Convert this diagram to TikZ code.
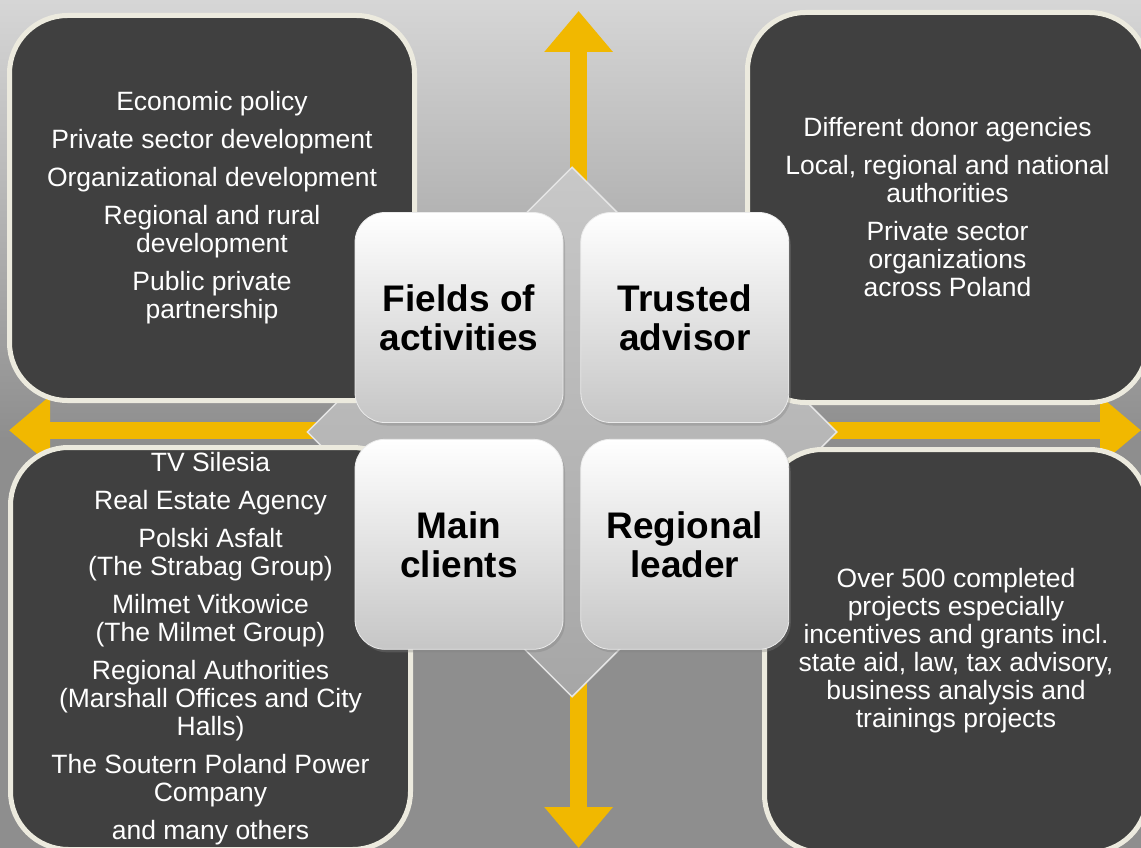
\documentclass[tikz,border=0pt]{standalone}
\usepackage{fontspec}
\setmainfont{Liberation Sans}
\usetikzlibrary{arrows.meta,positioning,shapes.geometric,shadows}

\definecolor{bgtop}{RGB}{214,214,214}
\definecolor{bgbottom}{RGB}{142,142,142}
\definecolor{arrowgold}{RGB}{241,184,0}
\definecolor{panelfill}{RGB}{64,64,64}
\definecolor{panelrim}{RGB}{236,234,222}
\definecolor{tilegray}{RGB}{198,198,198}
\definecolor{hubtop}{RGB}{200,200,200}
\definecolor{hubbottom}{RGB}{166,166,166}

\begin{document}
\begin{tikzpicture}[
				x=1pt, y=-1pt,
				panel/.style={
					draw=panelrim,
					fill=panelfill,
					line width=5pt,
					rounded corners=58pt,
					align=center,
					text=white,
					inner sep=0pt,
					font=\fontsize{26.5}{28}\selectfont
				},
				tile/.style={
					draw=white!92!black,
					top color=white,
					bottom color=tilegray,
					line width=0.8pt,
					rounded corners=30pt,
					minimum width=208pt,
					minimum height=210pt,
					inner sep=0pt,
					align=center,
					font=\fontsize{37}{39}\selectfont\bfseries,
					drop shadow={opacity=0.35,shadow xshift=2pt,shadow yshift=-3pt}
				},
				bigarrow/.style={
					draw=arrowgold,
					line width=17pt,
					-{Triangle[length=41pt,width=66pt]}
				}
				]
				\clip (0,0) rectangle (1141,848);
				\fill[top color=bgtop,bottom color=bgbottom] (0,0) rectangle (1141,440);
				\fill[bgbottom] (0,439) rectangle (1141,848);
				
				% the cross of arrows
				\coordinate (cross) at (578.6,430.3);
				\coordinate (ntip) at (578.6,11);
				\coordinate (stip) at (578.6,848);
				\coordinate (wtip) at (9,430.3);
				\coordinate (etip) at (1141,430.3);
				\draw[bigarrow] (cross) -- (ntip);
				\draw[bigarrow] (cross) -- (stip);
				\draw[bigarrow] (cross) -- (wtip);
				\draw[bigarrow] (cross) -- (etip);
				
				\node[diamond,aspect=1,inner sep=0pt,minimum width=530pt,minimum height=530pt,
					top color=hubtop,bottom color=hubbottom,draw=white!80!gray,line width=1.5pt] (hub) at (572,432) {};
				
				% corner panels
				\node[panel,minimum width=405pt,minimum height=385pt] (fieldsbox) at (212,208)
				{Economic policy\\[10pt]
					Private sector development\\[10pt]
					Organizational development\\[10pt]
					Regional and rural\\development\\[10pt]
					Public private\\partnership};
				\node[panel,minimum width=400pt,minimum height=390pt] (advisorbox) at (947.5,207.5)
				{Different donor agencies\\[10pt]
					Local, regional and national\\authorities\\[10pt]
					Private sector\\organizations\\across Poland};
				\node[panel,minimum width=400pt,minimum height=402pt] (clientsbox) at (210.5,648.5)
				{TV Silesia\\[10pt]
					Real Estate Agency\\[10pt]
					Polski Asfalt\\(The Strabag Group)\\[10pt]
					Milmet Vitkowice\\(The Milmet Group)\\[10pt]
					Regional Authorities\\(Marshall Offices and City\\Halls)\\[10pt]
					The Soutern Poland Power\\Company\\[10pt]
					and many others};
				\node[panel,minimum width=383pt,minimum height=403pt] (leaderbox) at (956,651)
				{Over 500 completed\\projects especially\\incentives and grants incl.\\state aid, law, tax advisory,\\business analysis and\\trainings projects};
				
				% centre tiles
				\node[tile] (fields) at (459,317.5) {Fields of\\activities};
				\node[tile,right=17pt of fields] (trusted) {Trusted\\advisor};
				\node[tile,below=16pt of fields] (clients) {Main\\clients};
				\node[tile,right=17pt of clients] (leader) {Regional\\leader};
			\end{tikzpicture}
\end{document}
